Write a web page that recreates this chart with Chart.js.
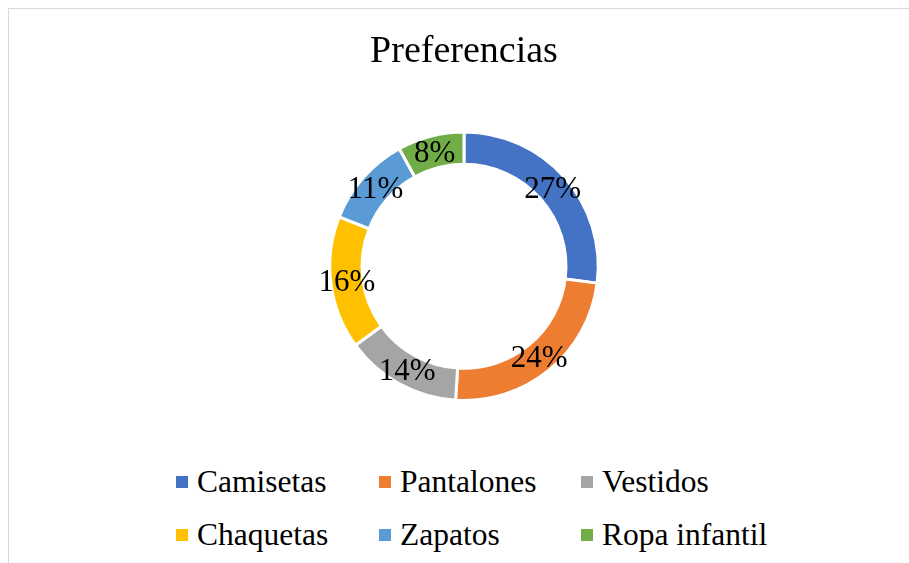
<!DOCTYPE html>
<html>
<head>
<meta charset="utf-8">
<script src="https://cdn.jsdelivr.net/npm/chart.js@4"></script>
<style>
    html, body { margin: 0; padding: 0; background: #fff; overflow: hidden; }
    body { width: 909px; height: 563px; position: relative; }
    .frame { position: absolute; left: 8px; top: 8px; width: 1000px; height: 700px; border: 1px solid #d9d9d9; box-sizing: border-box; }
    #wrap { position: absolute; left: 0; top: 0; width: 909px; height: 440px; }
    #legend {
        position: absolute; left: 176px; top: 455px;
        display: grid; grid-template-columns: 203px 202px auto; grid-auto-rows: 53px;
        font-family: "Liberation Serif", "Times New Roman", serif; font-size: 31.5px; color: #000;
    }
    #legend .item { display: flex; align-items: center; white-space: nowrap; }
    #legend .box { width: 12px; height: 12px; margin-right: 9px; flex: none; }
</style>
</head>
<body>
<div class="frame"></div>
<div id="wrap"><canvas id="chart"></canvas></div>
<div id="legend"></div>
<script>
const categories = ['Camisetas', 'Pantalones', 'Vestidos', 'Chaquetas', 'Zapatos', 'Ropa infantil'];
const shares = [27, 24, 14, 16, 11, 8];
const colors = ['#4472C4', '#ED7D31', '#A5A5A5', '#FFC000', '#5B9BD5', '#70AD47'];
const chartTitle = 'Preferencias';

const serif = '"Liberation Serif", "Times New Roman", serif';

// percent labels in the middle of each ring segment
const ringLabels = {
    id: 'ringLabels',
    afterDatasetsDraw(chart) {
        const { ctx } = chart;
        const meta = chart.getDatasetMeta(0);
        const total = shares.reduce((a, b) => a + b, 0);
        ctx.save();
        ctx.font = '31px ' + serif;
        ctx.fillStyle = '#000';
        ctx.textAlign = 'center';
        ctx.textBaseline = 'middle';
        meta.data.forEach((arc, i) => {
            const p = arc.tooltipPosition();
            ctx.fillText(Math.round(shares[i] / total * 100) + '%', p.x, p.y + 2);
        });
        ctx.restore();
    }
};

const chart = new Chart(document.getElementById('chart'), {
    type: 'doughnut',
    data: {
        labels: categories,
        datasets: [{
            data: shares,
            backgroundColor: colors,
            borderColor: '#ffffff',
            borderWidth: 3
        }]
    },
    options: {
        responsive: true,
        maintainAspectRatio: false,
        animation: false,
        cutout: '76%',
        layout: { padding: { left: 19, right: 0, top: 0, bottom: 38 } },
        plugins: {
            legend: { display: false },
            tooltip: { enabled: false },
            title: {
                display: true,
                text: chartTitle,
                color: '#000',
                font: { family: serif, size: 38, weight: 'normal', lineHeight: 1.2 },
                padding: { top: 29, bottom: 56 }
            }
        }
    },
    plugins: [ringLabels]
});

// HTML legend built from the chart's own legend items
const legendEl = document.getElementById('legend');
chart.options.plugins.legend.labels.generateLabels(chart).forEach(item => {
    const div = document.createElement('div');
    div.className = 'item';
    div.innerHTML = `<span class="box" style="background:${item.fillStyle}"></span><span>${item.text}</span>`;
    legendEl.appendChild(div);
});
</script>
</body>
</html>
